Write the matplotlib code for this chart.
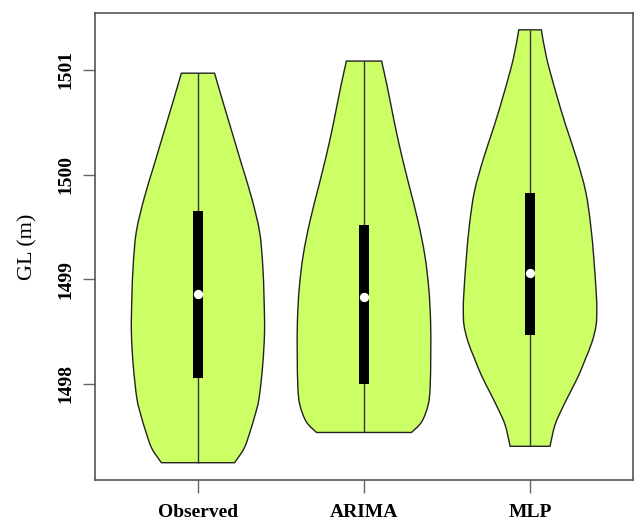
import matplotlib
matplotlib.use("Agg")
import matplotlib.pyplot as plt
from matplotlib.path import Path
from matplotlib.patches import PathPatch
import numpy as np

# ---- data ----
categories = ["Observed", "ARIMA", "MLP"]
minimum = [1497.248, 1497.537, 1497.405]
maximum = [1500.968, 1501.084, 1501.382]
q1 = [1498.055, 1498.002, 1498.463]
q3 = [1499.656, 1499.515, 1499.828]
median = [1498.858, 1498.829, 1499.058]

# density outline: levels (GL) and half-widths (x units)
obs_levels = [1500.968, 1500.729, 1500.411, 1500.092, 1499.774, 1499.455, 1499.137,
              1498.819, 1498.500, 1498.182, 1497.863, 1497.704, 1497.545, 1497.385, 1497.248]
obs_width = [0.100, 0.144, 0.204, 0.264, 0.324, 0.371, 0.390,
             0.398, 0.401, 0.390, 0.368, 0.344, 0.314, 0.278, 0.220]

ari_levels = [1501.084, 1500.825, 1500.506, 1500.188, 1499.869, 1499.551, 1499.232,
              1498.914, 1498.596, 1498.277, 1497.959, 1497.799, 1497.640, 1497.537]
ari_width = [0.106, 0.142, 0.182, 0.226, 0.276, 0.326, 0.366,
             0.390, 0.401, 0.402, 0.398, 0.386, 0.348, 0.286]

mlp_levels = [1501.382, 1501.111, 1500.793, 1500.475, 1500.156, 1499.838, 1499.519,
              1499.201, 1498.882, 1498.723, 1498.564, 1498.404, 1498.245, 1498.086,
              1497.927, 1497.768, 1497.608, 1497.405]
mlp_width = [0.068, 0.100, 0.154, 0.214, 0.280, 0.335, 0.365,
             0.384, 0.398, 0.402, 0.398, 0.374, 0.335, 0.294,
             0.244, 0.194, 0.150, 0.120]

y_ticks = [1498, 1499, 1500, 1501]
y_label = "GL (m)"

profiles = [(obs_levels, obs_width), (ari_levels, ari_width), (mlp_levels, mlp_width)]


def smooth_segments(pts):
    """Catmull-Rom curve through pts as cubic Bezier control points."""
    pts = np.asarray(pts, dtype=float)
    n = len(pts)
    verts, codes = [], []
    for i in range(n - 1):
        p0 = pts[i - 1] if i > 0 else pts[i]
        p1 = pts[i]
        p2 = pts[i + 1]
        p3 = pts[i + 2] if i + 2 < n else pts[i + 1]
        c1 = p1 + (p2 - p0) / 6.0
        c2 = p2 - (p3 - p1) / 6.0
        verts += [tuple(c1), tuple(c2), tuple(p2)]
        codes += [Path.CURVE4] * 3
    return verts, codes


# ---- plotting ----
fig = plt.figure(figsize=(6.35, 5.22), dpi=100)
ax = fig.add_axes([95 / 635, 42 / 522, 538 / 635, 466.7 / 522])

fill_col = "#CCFF66"
positions = np.arange(1, len(categories) + 1)

for i, (lv, wd) in enumerate(profiles):
    p = positions[i]
    lv = np.asarray(lv)
    wd = np.asarray(wd)
    right = np.column_stack([p + wd, lv])
    left = np.column_stack([p - wd, lv])[::-1]
    verts = [tuple(right[0])]
    codes = [Path.MOVETO]
    v, c = smooth_segments(right)
    verts += v
    codes += c
    verts.append(tuple(left[0]))
    codes.append(Path.LINETO)
    v, c = smooth_segments(left)
    verts += v
    codes += c
    verts.append(tuple(right[0]))
    codes.append(Path.CLOSEPOLY)
    patch = PathPatch(Path(verts, codes), facecolor=fill_col, edgecolor="#222222",
                      linewidth=1.0, zorder=2)
    ax.add_patch(patch)
    ax.vlines(p, minimum[i], maximum[i], color="#333333", linewidth=1.0, zorder=3)

ax.bar(positions, np.array(q3) - np.array(q1), bottom=q1, width=0.056,
       color="black", zorder=4)
ax.scatter(positions, median, s=45, color="white", zorder=5, linewidths=0)

ax.set_xlim(0.38, 3.62)
ax.set_ylim(1497.083, 1501.54)

ax.set_xticks(positions)
ax.set_xticklabels(categories, fontfamily="Liberation Serif", fontweight="bold", fontsize=14)
ax.set_yticks(y_ticks)
ax.set_yticklabels([str(t) for t in y_ticks], fontfamily="Liberation Serif",
                   fontweight="bold", fontsize=14, rotation=90, va="center")
ax.set_ylabel(y_label, fontfamily="Liberation Serif", fontsize=16, labelpad=14)

for s in ax.spines.values():
    s.set_color("#555555")
    s.set_linewidth(1.2)
ax.tick_params(axis="both", length=9, width=1.0, color="#666666", pad=6)
ax.tick_params(axis="x", pad=8)

fig.savefig("out.png", dpi=100)
